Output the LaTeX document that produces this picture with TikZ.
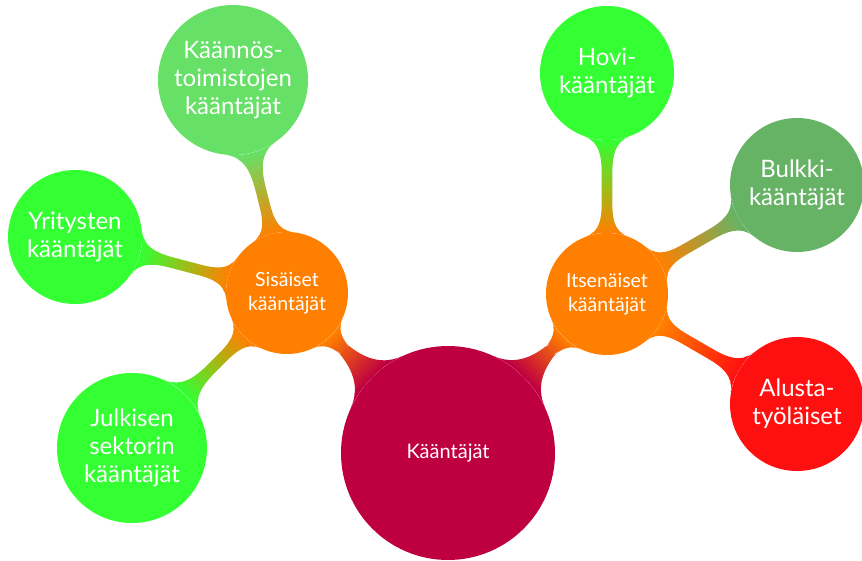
\documentclass[tikz,border=0pt]{standalone}
\usepackage{fontspec}
\setmainfont{Lato}
\usetikzlibrary{mindmap,shadings,decorations}
\definecolor{crim}{RGB}{191,0,64}
\definecolor{orng}{RGB}{255,128,0}
\definecolor{lgrn}{RGB}{102,224,102}
\definecolor{bgrn}{RGB}{51,255,51}
\definecolor{dgrn}{RGB}{102,179,102}
\definecolor{rred}{RGB}{255,16,16}
\tikzset{
  cpt/.style={circle, inner sep=0pt, align=center, text=white},
  rootc/.style={cpt, fill=crim, minimum size=214pt, font=\fontsize{20}{24}\selectfont},
  lvlone/.style={cpt, fill=orng, minimum size=122pt, font=\fontsize{19.5}{24}\selectfont},
  leafbig/.style={cpt, minimum size=150pt, font=\fontsize{24}{28}\selectfont},
  leafsmall/.style={cpt, minimum size=134pt, font=\fontsize{24}{28}\selectfont},
  barone/.style={line width=14pt},
  bartwo/.style={line width=9pt}
}
\begin{document}
\begin{tikzpicture}[x=1pt,y=1pt]
\useasboundingbox (0,0) rectangle (862,560);
\node[rootc] (R) at (448,107) {Kääntäjät};
\node[lvlone] (S) at (287,267) {Sisäiset\\kääntäjät};
\node[lvlone] (I) at (607,266) {Itsenäiset\\kääntäjät};
\node[leafbig, fill=lgrn] (K) at (233,480) {Käännös-\\toimistojen\\kääntäjät};
\node[leafsmall, fill=bgrn] (Y) at (75,323) {Yritysten\\kääntäjät};
\node[leafbig, fill=bgrn] (J) at (132,112) {Julkisen\\sektorin\\kääntäjät};
\node[leafsmall, fill=bgrn] (H) at (607,487) {Hovi-\\kääntäjät};
\node[leafsmall, fill=dgrn] (B) at (797,375) {Bulkki-\\kääntäjät};
\node[leafsmall, fill=rred] (A) at (797,156) {Alusta-\\työläiset};
\path[barone] (R) to[circle connection bar switch color=from (crim) to (orng)] (S);
\path[barone] (R) to[circle connection bar switch color=from (crim) to (orng)] (I);
\path[bartwo] (S) to[circle connection bar switch color=from (orng) to (lgrn)] (K);
\path[bartwo] (S) to[circle connection bar switch color=from (orng) to (bgrn)] (Y);
\path[bartwo] (S) to[circle connection bar switch color=from (orng) to (bgrn)] (J);
\path[bartwo] (I) to[circle connection bar switch color=from (orng) to (bgrn)] (H);
\path[bartwo] (I) to[circle connection bar switch color=from (orng) to (dgrn)] (B);
\path[bartwo] (I) to[circle connection bar switch color=from (orng) to (rred)] (A);
\end{tikzpicture}
\end{document}
